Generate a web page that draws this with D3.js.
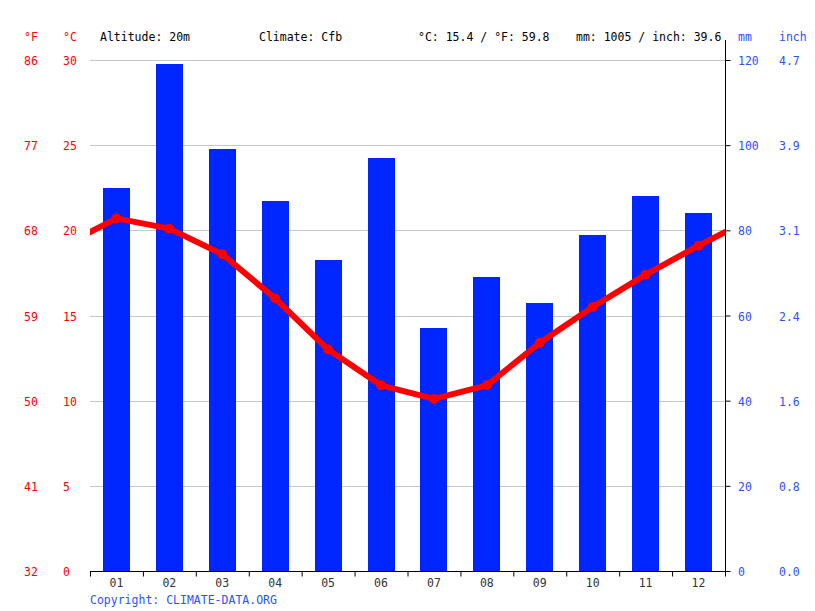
<!DOCTYPE html>
<html>
<head>
<meta charset="utf-8">
<script src="https://cdn.jsdelivr.net/npm/d3@7"></script>
<style>
  html, body { margin: 0; padding: 0; background: #fff; }
  svg { display: block; font-family: "DejaVu Sans Mono", monospace; font-size: 11.5px; }
</style>
</head>
<body>
<svg id="chart" width="815" height="611"></svg>
<script>
// climate data
const months = ['01','02','03','04','05','06','07','08','09','10','11','12'];
const precipMm = [90, 119, 99, 87, 73, 97, 57, 69, 63, 79, 88, 84];
const tempC = [20.7, 20.1, 18.6, 16.0, 13.0, 10.9, 10.1, 10.9, 13.4, 15.5, 17.4, 19.1];

const tempTicksC = [0, 5, 10, 15, 20, 25, 30];
const tempTicksF = ['32', '41', '50', '59', '68', '77', '86'];
const mmTicks = [0, 20, 40, 60, 80, 100, 120];
const inchTicks = ['0.0', '0.8', '1.6', '2.4', '3.1', '3.9', '4.7'];

const header = [
  { x: 100, text: 'Altitude: 20m' },
  { x: 259, text: 'Climate: Cfb' },
  { x: 418, text: '°C: 15.4 / °F: 59.8' },
  { x: 576, text: 'mm: 1005 / inch: 39.6' }
];

const RED = '#ff0000', BLUE_BAR = '#0026ff', BLUE_TXT = '#2b52ff', GRID = '#c8c8c8';
const pLeft = 90, pRight = 725, pTop = 60, pBottom = 571;

const svg = d3.select('#chart');

const x = d3.scaleBand().domain(months).range([pLeft, pRight]).padding(0);
const xBar = d3.scaleBand().domain(months).range([pLeft, pRight]).paddingInner(0.49).paddingOuter(0.245);
const xEdge = d3.scaleLinear().domain([0, 12]).range([pLeft, pRight]);
const yT = d3.scaleLinear().domain([0, 30]).range([pBottom, pTop]);
const yP = d3.scaleLinear().domain([0, 120]).range([pBottom, pTop]);

// grid
svg.append('g').selectAll('line').data(tempTicksC.filter(d => d > 0)).join('line')
  .attr('x1', pLeft).attr('x2', pRight)
  .attr('y1', d => Math.round(yT(d)) + 0.5).attr('y2', d => Math.round(yT(d)) + 0.5)
  .attr('stroke', GRID).attr('stroke-width', 1);

// bars
svg.append('g').selectAll('rect').data(months).join('rect')
  .attr('x', d => xBar(d)).attr('width', xBar.bandwidth())
  .attr('y', (d, i) => yP(precipMm[i]))
  .attr('height', (d, i) => pBottom - yP(precipMm[i]))
  .attr('fill', BLUE_BAR).attr('shape-rendering', 'crispEdges');

// temperature line, wrapped Dec -> Jan at both edges
svg.append('clipPath').attr('id', 'plotclip').append('rect')
  .attr('x', pLeft).attr('y', 0).attr('width', pRight - pLeft).attr('height', pBottom);
const step = x.step();
const pts = tempC.map((t, i) => [x(months[i]) + step / 2, yT(t)]);
const wrapped = [[pts[0][0] - step, yT(tempC[11])]].concat(pts, [[pts[11][0] + step, yT(tempC[0])]]);
const lineG = svg.append('g').attr('clip-path', 'url(#plotclip)');
lineG.append('path').datum(wrapped)
  .attr('d', d3.line())
  .attr('fill', 'none').attr('stroke', RED).attr('stroke-width', 6).attr('stroke-linejoin', 'round');
lineG.selectAll('circle').data(pts).join('circle')
  .attr('cx', d => d[0]).attr('cy', d => d[1]).attr('r', 5).attr('fill', RED);

// bottom axis: boundary ticks + month labels
const axB = svg.append('g').attr('transform', 'translate(0,' + (pBottom + 0.5) + ')');
axB.call(d3.axisBottom(xEdge).tickValues(d3.range(0, 13)).tickFormat('').tickSize(5).tickSizeOuter(0));
axB.select('.domain').attr('d', 'M' + pLeft + ',0H' + (pRight + 3)).attr('stroke', '#000');
axB.selectAll('.tick line').attr('stroke', '#000');
svg.append('g').selectAll('text').data(months).join('text')
  .attr('x', d => x(d) + step / 2).attr('y', pBottom + 16)
  .attr('text-anchor', 'middle').attr('fill', '#333').text(d => d);

// right axis (mm)
const axR = svg.append('g').attr('transform', 'translate(' + (pRight + 0.5) + ',0)');
axR.call(d3.axisRight(yP).tickValues(mmTicks).tickFormat('').tickSize(5).tickSizeOuter(0));
axR.select('.domain').attr('d', 'M0,40V' + (pBottom + 2)).attr('stroke', '#000');
axR.selectAll('.tick line').attr('stroke', '#000');

// axis labels
svg.append('g').selectAll('text').data(tempTicksC).join('text')
  .attr('x', 63).attr('y', d => yT(d) + 5).attr('fill', RED).text(d => d);
svg.append('g').selectAll('text').data(tempTicksF).join('text')
  .attr('x', 24).attr('y', (d, i) => yT(tempTicksC[i]) + 5).attr('fill', RED).text(d => d);
svg.append('g').selectAll('text').data(mmTicks).join('text')
  .attr('x', 738).attr('y', d => yP(d) + 5).attr('fill', BLUE_TXT).text(d => d);
svg.append('g').selectAll('text').data(inchTicks).join('text')
  .attr('x', 779).attr('y', (d, i) => yP(mmTicks[i]) + 5).attr('fill', BLUE_TXT).text(d => d);

// unit headers
const units = [
  { x: 24, text: '°F', fill: RED },
  { x: 63, text: '°C', fill: RED },
  { x: 738, text: 'mm', fill: BLUE_TXT },
  { x: 779, text: 'inch', fill: BLUE_TXT }
];
svg.append('g').selectAll('text').data(units).join('text')
  .attr('x', d => d.x).attr('y', 41).attr('fill', d => d.fill).text(d => d.text);
svg.append('g').selectAll('text').data(header).join('text')
  .attr('x', d => d.x).attr('y', 41).attr('fill', '#000').text(d => d.text);

svg.append('text').attr('x', 90).attr('y', 604).attr('fill', BLUE_TXT)
  .text('Copyright: CLIMATE-DATA.ORG');
</script>
</body>
</html>
